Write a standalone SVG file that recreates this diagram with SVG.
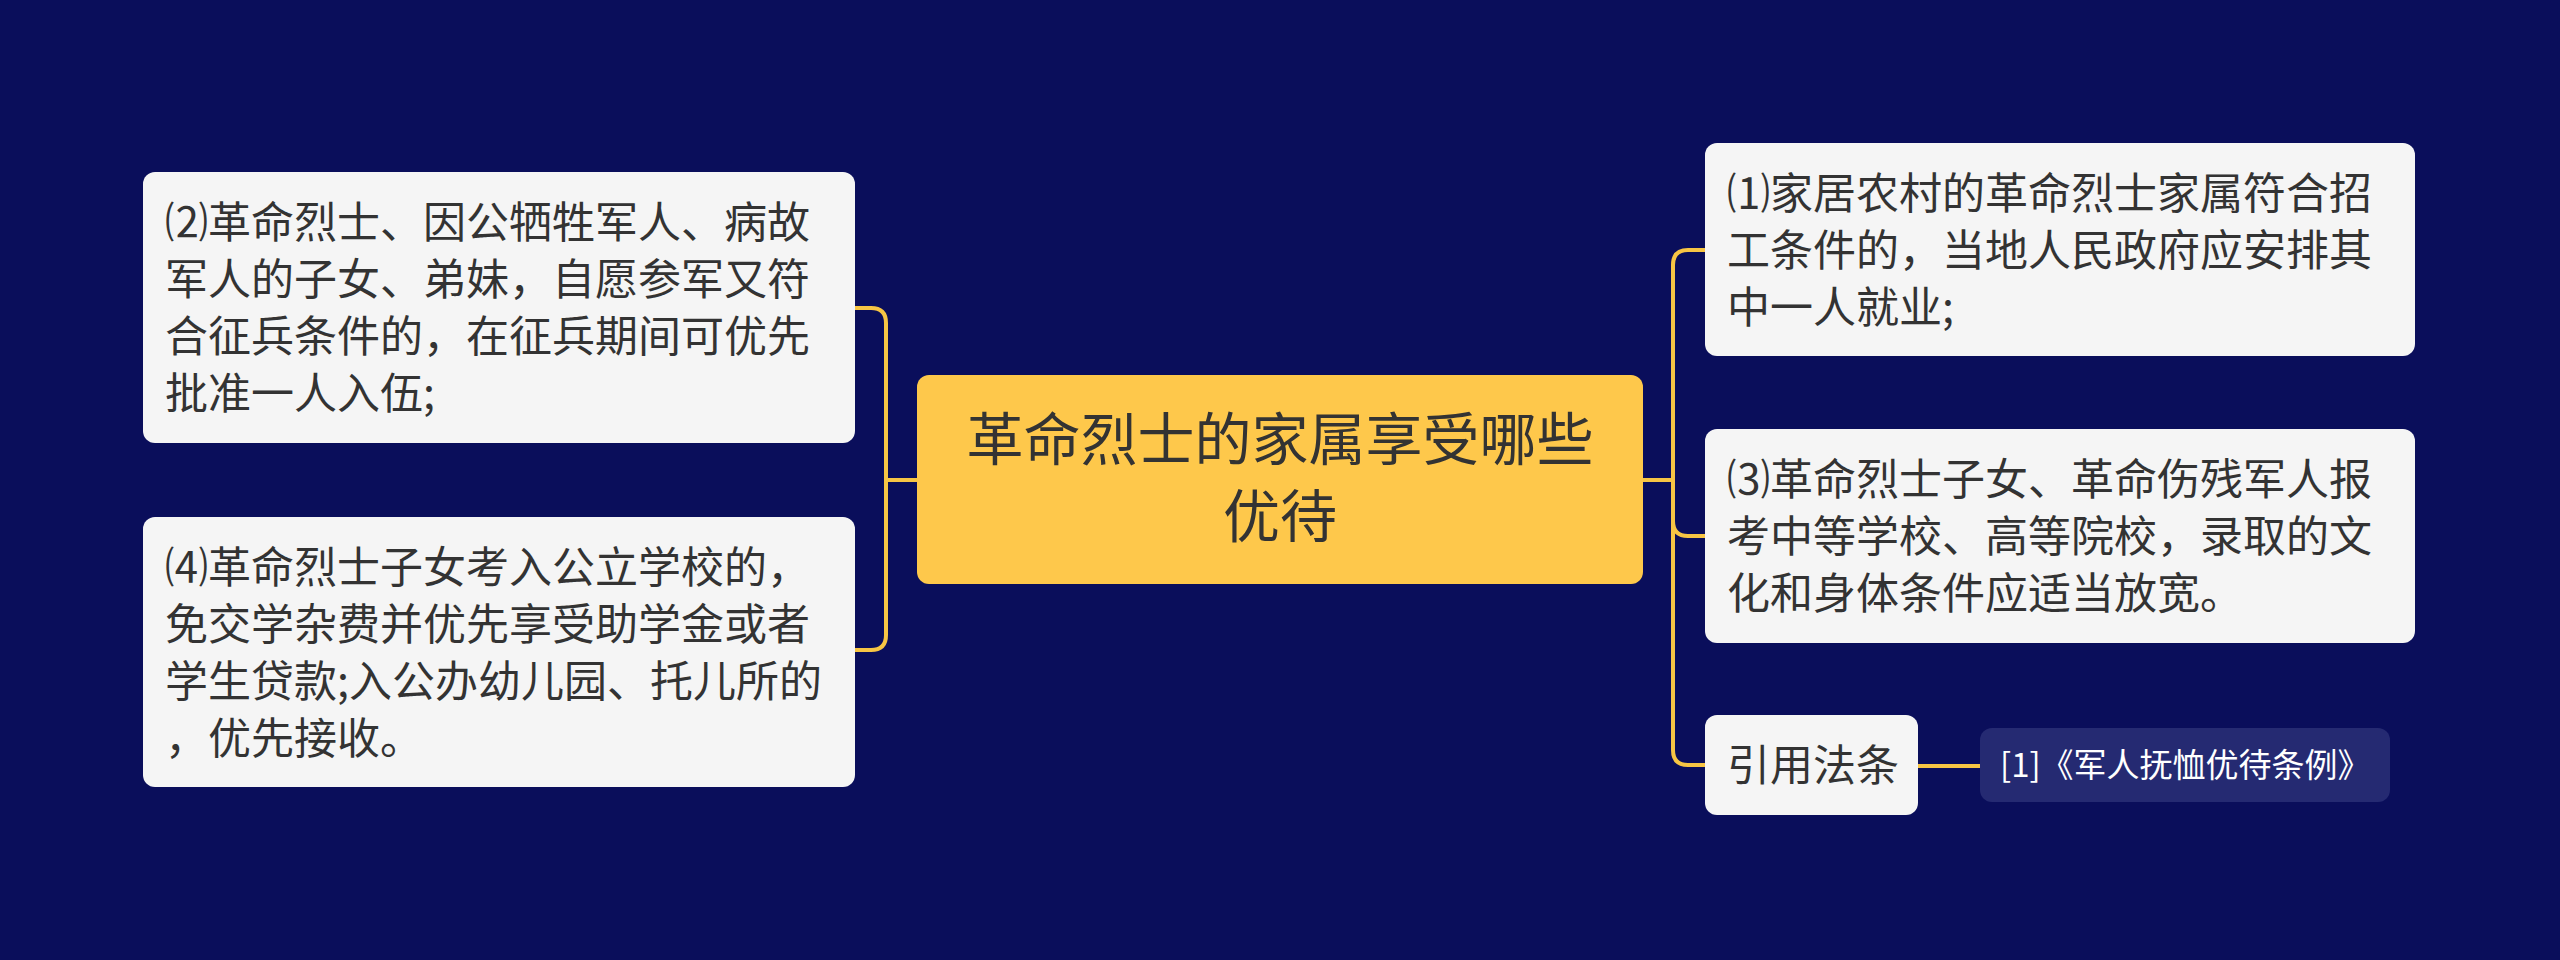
<svg xmlns="http://www.w3.org/2000/svg" width="2560" height="960" viewBox="0 0 2560 960">
<style>
.bg{fill:#0a0e5b}
.box{fill:#f5f5f5}
.root{fill:#fec84b}
.ref{fill:#252a72}
.t{font-family:"Noto Sans CJK SC","Noto Sans",sans-serif;font-size:43px;fill:#333333}
.tr{font-family:"Noto Sans CJK SC","Noto Sans",sans-serif;font-size:57px;fill:#333333;text-anchor:middle}
.tw{font-family:"Noto Sans CJK SC","Noto Sans",sans-serif;font-size:33px;fill:#ffffff}
.c{fill:none;stroke:#f7c544;stroke-width:4;stroke-linecap:round}
</style>
<rect class="bg" x="0" y="0" width="2560" height="960"/>
<g id="connectors">
<path class="c" d="M855 308 H871 Q886 308 886 323 V635 Q886 650 871 650 H855"/>
<path class="c" d="M886 480 H917"/>
<path class="c" d="M1705 250 H1688 Q1673 250 1673 265 V750 Q1673 765 1688 765 H1705"/>
<path class="c" d="M1673 521 Q1673 536 1688 536 H1705"/>
<path class="c" d="M1643 480 H1673"/>
<path class="c" d="M1918 766 H1980"/>
</g>
<g id="root">
<rect class="root" x="917" y="375" width="726" height="209" rx="12"/>
<text class="tr" x="1280" y="460">革命烈士的家属享受哪些</text>
<text class="tr" x="1280" y="537">优待</text>
</g>
<g id="node2">
<rect class="box" x="143" y="172" width="712" height="271" rx="12"/>
<text class="t" x="165" y="238">⑵革命烈士、因公牺牲军人、病故</text>
<text class="t" x="165" y="295">军人的子女、弟妹，自愿参军又符</text>
<text class="t" x="165" y="352">合征兵条件的，在征兵期间可优先</text>
<text class="t" x="165" y="409">批准一人入伍;</text>
</g>
<g id="node4">
<rect class="box" x="143" y="517" width="712" height="270" rx="12"/>
<text class="t" x="165" y="583">⑷革命烈士子女考入公立学校的，</text>
<text class="t" x="165" y="640">免交学杂费并优先享受助学金或者</text>
<text class="t" x="165" y="697">学生贷款;入公办幼儿园、托儿所的</text>
<text class="t" x="165" y="754">，优先接收。</text>
</g>
<g id="node1">
<rect class="box" x="1705" y="143" width="710" height="213" rx="12"/>
<text class="t" x="1727" y="209">⑴家居农村的革命烈士家属符合招</text>
<text class="t" x="1727" y="266">工条件的，当地人民政府应安排其</text>
<text class="t" x="1727" y="323">中一人就业;</text>
</g>
<g id="node3">
<rect class="box" x="1705" y="429" width="710" height="214" rx="12"/>
<text class="t" x="1727" y="495">⑶革命烈士子女、革命伤残军人报</text>
<text class="t" x="1727" y="552">考中等学校、高等院校，录取的文</text>
<text class="t" x="1727" y="609">化和身体条件应适当放宽。</text>
</g>
<g id="citation">
<rect class="box" x="1705" y="715" width="213" height="100" rx="12"/>
<text class="t" x="1727" y="781">引用法条</text>
</g>
<g id="ref1">
<rect class="ref" x="1980" y="728" width="410" height="74" rx="12"/>
<text class="tw" x="2000" y="777">[1]《军人抚恤优待条例》</text>
</g>
</svg>
